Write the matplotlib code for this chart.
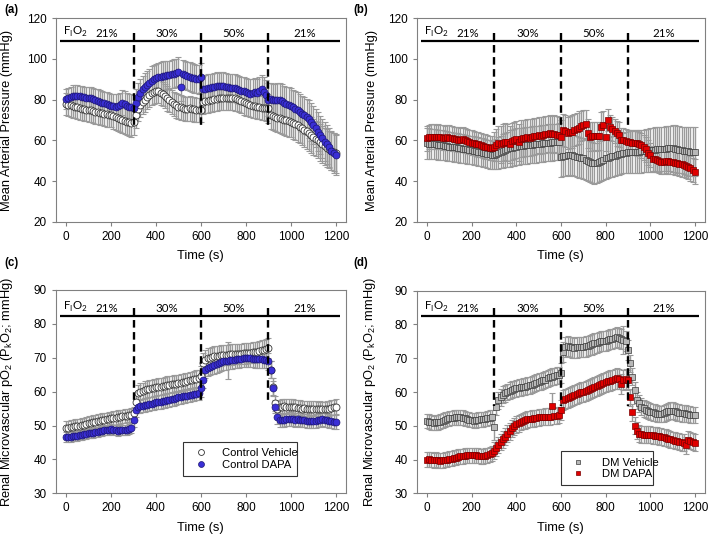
import numpy as np
import matplotlib.pyplot as plt

plt.rcParams['font.family'] = ['Liberation Sans', 'DejaVu Sans']

# sample times (s), one reading every 10 s
time_s = np.arange(0, 1201, 10)

# (a) mean arterial pressure, control rats
map_ctl_veh = [
    77.9, 77.5, 77.2, 76.8, 76.5, 76.2, 75.9, 75.6, 75.3, 75.1,
    75.0, 74.7, 74.4, 74.1, 73.8, 73.5, 73.3, 73.0, 72.8, 72.6,
    72.5, 72.0, 71.5, 71.0, 70.5, 70.0, 69.6, 69.2, 68.8, 68.3,
    69.2, 72.5, 75.5, 77.5, 79.0, 80.0, 81.2, 82.3, 83.3, 84.0,
    84.4, 84.2, 83.5, 82.7, 81.8, 80.6, 79.7, 78.8, 78.0, 77.2,
    76.6, 76.2, 75.8, 75.5, 75.4, 75.7, 75.5, 75.2, 75.0, 75.0,
    75.0, 79.0, 79.2, 79.5, 79.8, 80.0, 80.2, 80.5, 80.7, 80.9,
    81.0, 81.0, 81.0, 80.9, 80.8, 80.6, 80.3, 79.8, 79.2, 78.7,
    78.2, 77.8, 77.4, 77.0, 76.8, 76.6, 76.3, 76.0, 75.8, 75.7,
    75.7, 72.5, 72.0, 71.6, 71.2, 70.8, 70.5, 70.2, 69.8, 69.5,
    69.2, 68.6, 68.0, 67.4, 66.7, 66.0, 65.2, 64.4, 63.5, 62.6,
    61.8, 60.9, 60.0, 59.0, 58.0, 57.0, 56.3, 55.6, 54.8, 54.2,
    53.6]
map_ctl_veh_se = [
    5.5, 5.5, 5.5, 5.6, 5.6, 5.6, 5.7, 5.7, 5.7, 5.8,
    5.8, 5.8, 5.9, 5.9, 5.9, 6.0, 6.0, 6.0, 6.1, 6.1,
    6.1, 6.2, 6.2, 6.2, 6.3, 6.3, 6.4, 6.4, 6.5, 6.5,
    6.5, 6.2, 6.0, 6.0, 6.0, 6.0, 6.0, 6.0, 6.0, 6.0,
    6.0, 6.0, 6.0, 6.0, 6.0, 6.0, 6.0, 6.0, 6.0, 6.0,
    6.0, 6.0, 6.0, 6.0, 6.0, 6.0, 6.0, 6.0, 6.0, 6.0,
    6.0, 6.0, 6.0, 6.0, 6.0, 6.0, 6.0, 6.0, 6.0, 6.0,
    6.0, 6.0, 6.0, 6.0, 6.0, 6.0, 6.0, 6.0, 6.0, 6.0,
    6.0, 6.0, 6.0, 6.0, 6.0, 6.0, 6.0, 6.0, 6.0, 6.0,
    7.0, 7.0, 7.1, 7.2, 7.3, 7.4, 7.5, 7.6, 7.7, 7.8,
    7.8, 7.9, 8.0, 8.1, 8.2, 8.3, 8.4, 8.5, 8.6, 8.7,
    8.8, 8.8, 8.9, 9.0, 9.0, 9.1, 9.2, 9.2, 9.3, 9.4,
    9.5]
map_ctl_dapa = [
    80.2, 80.8, 81.3, 81.8, 82.0, 82.0, 81.8, 81.5, 81.2, 81.0,
    81.0, 80.6, 80.2, 79.8, 79.4, 79.0, 78.6, 78.2, 77.8, 77.4,
    77.0, 76.8, 76.6, 76.8, 77.2, 78.5, 77.8, 77.0, 76.5, 76.2,
    76.0, 78.5, 81.5, 83.5, 85.0, 86.0, 87.2, 88.3, 89.3, 90.0,
    90.5, 91.0, 91.3, 91.6, 91.8, 92.0, 92.2, 92.5, 92.8, 93.2,
    93.8, 86.2, 92.5, 92.0, 91.6, 91.3, 90.8, 90.5, 90.2, 90.0,
    91.0, 85.0, 85.3, 85.6, 85.8, 86.0, 86.4, 86.8, 86.5, 86.7,
    86.7, 86.2, 86.0, 85.8, 85.6, 85.6, 85.2, 84.8, 84.5, 84.2,
    84.0, 83.5, 83.0, 83.3, 83.6, 83.4, 84.2, 85.0, 84.0, 82.5,
    80.0, 80.2, 79.8, 79.6, 79.8, 79.8, 79.2, 78.5, 78.0, 77.5,
    77.0, 76.3, 75.5, 74.8, 74.0, 73.0, 72.3, 71.5, 70.5, 69.0,
    67.5, 66.0, 64.3, 62.5, 61.0, 59.3, 58.0, 56.5, 55.0, 53.8,
    52.8]
map_ctl_dapa_se = [
    5.0, 5.0, 5.0, 5.2, 5.2, 5.2, 5.0, 5.0, 5.0, 5.2,
    5.2, 5.4, 5.4, 5.4, 5.6, 5.6, 5.6, 5.8, 5.8, 5.8,
    6.0, 6.0, 6.0, 6.2, 6.2, 6.2, 6.4, 6.4, 6.4, 6.5,
    6.5, 6.5, 6.8, 6.8, 6.8, 7.0, 7.0, 7.0, 7.2, 7.2,
    7.2, 7.2, 7.2, 7.2, 7.0, 7.0, 7.0, 7.0, 7.0, 7.0,
    7.0, 7.0, 7.0, 7.0, 7.0, 7.0, 7.0, 7.0, 7.0, 7.0,
    7.0, 6.8, 6.8, 6.8, 6.8, 6.8, 6.8, 6.8, 6.8, 6.8,
    6.8, 6.8, 6.8, 6.8, 6.8, 6.8, 6.8, 6.8, 6.8, 6.8,
    6.8, 6.8, 7.0, 7.0, 7.0, 7.0, 7.0, 7.0, 7.0, 7.0,
    8.0, 8.0, 8.0, 8.2, 8.2, 8.2, 8.4, 8.4, 8.4, 8.6,
    8.6, 8.6, 8.8, 8.8, 8.8, 9.0, 9.0, 9.0, 9.2, 9.2,
    9.2, 9.4, 9.4, 9.4, 9.6, 9.6, 9.6, 9.8, 9.8, 9.8,
    10.0]

# (b) mean arterial pressure, diabetic rats
map_dm_veh = [
    58.5, 58.4, 58.3, 58.2, 58.0, 57.9, 57.8, 57.6, 57.4, 57.2,
    56.9, 56.8, 56.6, 56.5, 56.3, 56.1, 55.9, 55.7, 55.5, 55.3,
    55.2, 55.0, 54.7, 54.5, 54.2, 54.0, 53.7, 53.4, 53.1, 52.9,
    52.8, 53.3, 53.8, 54.2, 54.8, 55.2, 55.6, 56.0, 56.3, 56.6,
    56.9, 57.0, 57.2, 57.3, 57.5, 57.6, 57.8, 57.9, 58.0, 58.1,
    58.2, 58.3, 58.5, 58.6, 58.8, 58.9, 59.0, 59.1, 59.2, 59.3,
    52.0, 52.3, 52.5, 52.8, 52.6, 52.8, 52.5, 52.0, 51.6, 51.3,
    51.1, 50.5, 50.0, 49.5, 49.0, 48.7, 48.9, 49.5, 50.0, 50.5,
    51.1, 51.5, 51.8, 52.2, 52.5, 52.8, 53.1, 53.4, 53.7, 54.0,
    54.4, 54.3, 54.4, 54.5, 54.4, 54.4, 54.6, 54.8, 54.9, 55.0,
    55.2, 55.3, 55.4, 55.5, 55.6, 55.7, 55.8, 55.9, 56.0, 56.0,
    56.0, 55.8, 55.6, 55.4, 55.2, 55.0, 54.8, 54.6, 54.5, 54.4,
    54.4]
map_dm_veh_se = [
    7.5, 7.5, 7.5, 7.4, 7.4, 7.4, 7.3, 7.3, 7.3, 7.2,
    7.2, 7.2, 7.1, 7.1, 7.1, 7.0, 7.0, 7.0, 7.0, 7.0,
    7.0, 7.0, 7.0, 7.0, 7.0, 7.0, 7.0, 7.0, 7.0, 7.0,
    7.0, 7.5, 8.0, 8.0, 8.5, 8.5, 8.5, 9.0, 9.0, 9.0,
    9.0, 9.0, 9.0, 9.0, 9.0, 9.0, 9.0, 9.0, 9.0, 9.0,
    9.0, 9.0, 9.0, 9.0, 9.0, 9.0, 9.0, 9.0, 9.0, 9.0,
    10.0, 10.0, 10.0, 10.0, 10.0, 10.0, 10.0, 10.0, 10.0, 10.0,
    10.0, 10.0, 10.0, 10.0, 10.0, 10.0, 10.0, 10.0, 10.0, 10.0,
    10.0, 10.0, 10.0, 10.0, 10.0, 10.0, 10.0, 10.0, 10.0, 10.0,
    10.5, 10.5, 10.5, 10.5, 10.5, 10.5, 10.5, 10.5, 10.5, 10.5,
    11.0, 11.0, 11.0, 11.0, 11.0, 11.0, 11.0, 11.0, 11.0, 11.0,
    11.5, 11.5, 11.5, 11.5, 11.5, 11.5, 12.0, 12.0, 12.0, 12.0,
    12.0]
map_dm_dapa = [
    61.0, 61.5, 61.8, 61.8, 61.6, 61.8, 61.5, 61.3, 61.2, 61.4,
    61.3, 61.0, 60.8, 60.6, 60.4, 60.2, 60.5, 60.0, 59.6, 59.3,
    58.9, 58.6, 58.3, 58.0, 57.7, 57.2, 56.9, 56.6, 56.3, 56.1,
    56.9, 57.8, 58.5, 58.0, 58.8, 59.3, 59.0, 58.0, 59.5, 60.0,
    60.5, 59.0, 60.8, 61.0, 61.2, 61.5, 61.3, 61.6, 62.0, 62.2,
    62.6, 62.3, 62.6, 63.0, 63.2, 63.4, 63.0, 63.3, 62.8, 62.6,
    61.8, 65.1, 64.5, 63.5, 64.0, 64.3, 65.0, 65.5, 66.2, 67.0,
    67.5, 68.0, 63.4, 61.8, 61.9, 62.1, 62.0, 62.1, 66.7, 67.5,
    61.8, 70.0, 66.4, 65.5, 64.5, 63.4, 62.8, 60.2, 60.0, 59.5,
    59.3, 59.0, 58.8, 58.8, 58.5, 58.2, 57.5, 56.5, 55.5, 54.0,
    52.8, 51.0, 50.8, 50.5, 50.0, 49.5, 49.5, 49.8, 49.6, 49.5,
    49.5, 49.0, 48.8, 48.5, 48.2, 47.9, 47.5, 47.0, 46.2, 45.5,
    44.6]
map_dm_dapa_se = [
    6.0, 6.0, 6.0, 6.0, 6.0, 6.0, 6.0, 6.0, 6.0, 6.0,
    6.0, 6.0, 6.0, 6.0, 6.0, 6.0, 6.0, 6.0, 6.0, 6.0,
    6.0, 6.0, 6.0, 6.0, 6.0, 6.0, 6.0, 6.0, 6.0, 6.0,
    7.0, 8.0, 8.5, 9.0, 9.0, 9.0, 9.0, 9.0, 9.0, 9.0,
    9.0, 9.0, 9.0, 9.0, 9.0, 9.0, 9.0, 9.0, 9.0, 9.0,
    9.0, 9.0, 9.0, 9.0, 9.0, 9.0, 9.0, 9.0, 9.0, 9.0,
    8.0, 8.0, 8.0, 8.0, 8.0, 8.0, 8.0, 8.0, 8.0, 7.5,
    7.5, 7.0, 7.0, 7.0, 7.0, 7.0, 7.0, 7.0, 7.0, 7.0,
    7.0, 5.5, 6.0, 6.0, 6.0, 6.0, 6.0, 6.0, 6.0, 6.0,
    6.0, 6.0, 6.0, 6.0, 6.0, 6.0, 6.0, 6.0, 6.0, 6.0,
    6.0, 6.0, 6.0, 6.0, 6.0, 6.0, 6.0, 6.0, 6.0, 6.0,
    6.0, 6.0, 6.0, 6.0, 6.0, 6.0, 6.0, 6.0, 6.0, 6.0,
    6.0]

# (c) renal microvascular pO2, control rats
pko2_ctl_veh = [
    49.2, 49.3, 49.5, 49.6, 49.8, 49.9, 50.0, 50.2, 50.3, 50.5,
    50.7, 50.8, 51.0, 51.1, 51.3, 51.4, 51.6, 51.7, 51.8, 52.0,
    52.1, 52.2, 52.3, 52.5, 52.6, 52.7, 52.8, 52.9, 53.0, 53.1,
    53.6, 57.0, 59.5, 60.0, 60.2, 60.5, 60.7, 60.9, 61.0, 61.2,
    61.3, 61.4, 61.5, 61.6, 61.8, 62.0, 62.1, 62.2, 62.3, 62.4,
    62.5, 62.6, 62.8, 62.9, 63.1, 63.3, 63.4, 63.6, 63.8, 64.0,
    64.5, 68.4, 69.4, 69.8, 70.0, 70.3, 70.4, 70.5, 70.6, 70.7,
    70.8, 70.9, 70.9, 71.0, 71.0, 71.1, 71.1, 71.2, 71.2, 71.3,
    71.3, 71.4, 71.5, 71.6, 71.7, 71.8, 72.0, 72.2, 72.3, 72.5,
    72.8, 66.5, 61.5, 56.6, 55.0, 55.4, 55.6, 55.7, 55.6, 55.6,
    55.6, 55.5, 55.4, 55.3, 55.2, 55.0, 55.1, 55.0, 54.9, 55.0,
    55.0, 54.9, 54.8, 54.9, 54.8, 54.8, 54.9, 55.0, 55.2, 55.4,
    55.6]
pko2_ctl_veh_se = [
    2.0, 2.0, 2.0, 2.0, 2.0, 2.0, 2.0, 2.0, 2.0, 2.0,
    2.0, 2.0, 2.0, 2.0, 2.0, 2.0, 2.0, 2.0, 2.0, 2.0,
    2.0, 2.0, 2.0, 2.0, 2.0, 2.0, 2.0, 2.0, 2.0, 2.0,
    2.0, 2.5, 2.5, 2.5, 2.5, 2.5, 2.5, 2.5, 2.5, 2.5,
    2.5, 2.5, 2.5, 2.5, 2.5, 2.5, 2.5, 2.5, 2.5, 2.5,
    2.5, 2.5, 2.5, 2.5, 2.5, 2.5, 2.5, 2.5, 2.5, 2.5,
    3.0, 3.0, 3.0, 3.0, 3.0, 3.0, 3.0, 3.0, 3.0, 3.0,
    3.0, 3.0, 3.0, 3.0, 3.0, 3.0, 3.0, 3.0, 3.0, 3.0,
    3.0, 3.0, 3.0, 3.0, 3.0, 3.0, 3.0, 3.0, 3.0, 3.0,
    3.0, 2.5, 2.5, 2.2, 2.2, 2.2, 2.2, 2.2, 2.2, 2.2,
    2.2, 2.2, 2.2, 2.2, 2.2, 2.2, 2.2, 2.2, 2.2, 2.2,
    2.2, 2.2, 2.2, 2.2, 2.2, 2.2, 2.2, 2.2, 2.2, 2.2,
    2.2]
pko2_ctl_dapa = [
    46.7, 46.5, 46.6, 46.8, 46.9, 47.0, 47.1, 47.2, 47.4, 47.5,
    47.7, 47.8, 47.9, 48.0, 48.2, 48.3, 48.4, 48.6, 48.7, 48.8,
    48.9, 48.8, 48.6, 48.5, 48.7, 48.7, 48.6, 48.8, 49.0, 49.2,
    51.7, 54.5, 55.6, 55.8, 55.9, 56.0, 56.2, 56.4, 56.5, 56.7,
    56.8, 56.9, 57.0, 57.2, 57.3, 57.5, 57.6, 57.8, 57.9, 58.1,
    58.3, 58.4, 58.6, 58.7, 58.8, 59.0, 59.1, 59.2, 59.4, 59.5,
    61.0, 63.5, 66.4, 67.0, 67.3, 67.6, 67.8, 68.1, 68.4, 68.7,
    68.9, 69.0, 69.1, 69.2, 69.3, 69.4, 69.5, 69.6, 69.7, 69.8,
    69.8, 69.9, 69.8, 69.7, 69.6, 69.6, 69.5, 69.5, 69.4, 69.4,
    68.9, 66.4, 61.0, 55.6, 52.6, 51.7, 51.5, 51.7, 51.8, 51.9,
    51.9, 51.8, 51.7, 51.8, 51.7, 51.7, 51.5, 51.3, 51.2, 51.2,
    51.2, 51.4, 51.5, 51.7, 51.9, 51.7, 51.5, 51.3, 51.2, 51.1,
    51.0]
pko2_ctl_dapa_se = [
    1.5, 1.5, 1.5, 1.5, 1.5, 1.5, 1.5, 1.5, 1.5, 1.5,
    1.5, 1.5, 1.5, 1.5, 1.5, 1.5, 1.5, 1.5, 1.5, 1.5,
    1.5, 1.5, 1.5, 1.5, 1.5, 1.5, 1.5, 1.5, 1.5, 1.5,
    2.0, 2.0, 2.0, 2.0, 2.0, 2.0, 2.0, 2.0, 2.0, 2.0,
    2.0, 2.0, 2.0, 2.0, 2.0, 2.0, 2.0, 2.0, 2.0, 2.0,
    2.0, 2.0, 2.0, 2.0, 2.0, 2.0, 2.0, 2.0, 2.0, 2.0,
    2.5, 2.5, 2.5, 2.5, 2.5, 2.5, 2.5, 2.5, 2.5, 2.5,
    2.5, 2.5, 5.5, 2.5, 2.5, 2.5, 2.5, 2.5, 2.5, 2.5,
    2.5, 2.5, 2.5, 2.5, 2.5, 2.5, 2.5, 2.5, 2.5, 2.5,
    2.5, 2.5, 2.2, 2.0, 2.0, 2.0, 2.0, 2.0, 2.0, 2.0,
    2.0, 2.0, 2.0, 2.0, 2.0, 2.0, 2.0, 2.0, 2.0, 2.0,
    2.0, 2.0, 2.0, 2.0, 2.0, 2.0, 2.0, 2.0, 2.0, 2.0,
    2.0]

# (d) renal microvascular pO2, diabetic rats
pko2_dm_veh = [
    51.4, 51.2, 51.0, 50.8, 51.0, 51.0, 51.2, 51.5, 51.8, 52.0,
    52.2, 52.3, 52.4, 52.5, 52.5, 52.5, 52.4, 52.2, 52.0, 51.8,
    51.7, 51.5, 51.6, 51.8, 51.9, 51.9, 52.0, 52.2, 52.4, 52.5,
    49.7, 55.6, 57.6, 58.5, 59.2, 59.6, 60.0, 60.4, 60.7, 60.9,
    61.1, 61.3, 61.4, 61.5, 61.6, 61.8, 62.0, 62.2, 62.4, 62.7,
    63.0, 63.2, 63.5, 63.7, 64.0, 64.3, 64.5, 64.7, 64.9, 65.0,
    65.7, 71.9, 73.4, 73.6, 73.4, 73.2, 73.1, 73.2, 73.3, 73.4,
    73.4, 73.5, 73.7, 73.9, 74.1, 74.4, 74.6, 74.8, 75.0, 75.1,
    75.2, 75.4, 75.6, 75.8, 76.0, 76.2, 76.0, 75.8, 75.4, 75.0,
    72.5, 68.5, 64.5, 60.6, 57.6, 56.6, 55.6, 55.2, 54.8, 54.5,
    54.2, 54.0, 53.8, 53.6, 53.5, 53.5, 53.7, 54.0, 54.3, 54.5,
    54.5, 54.3, 54.0, 53.8, 53.7, 53.7, 53.6, 53.5, 53.3, 53.2,
    53.2]
pko2_dm_veh_se = [
    2.2, 2.2, 2.2, 2.2, 2.2, 2.2, 2.2, 2.2, 2.2, 2.2,
    2.2, 2.2, 2.2, 2.2, 2.2, 2.2, 2.2, 2.2, 2.2, 2.2,
    2.2, 2.2, 2.2, 2.2, 2.2, 2.2, 2.2, 2.2, 2.2, 2.2,
    3.8, 2.5, 2.5, 2.5, 2.5, 2.5, 2.5, 2.5, 2.5, 2.5,
    2.5, 2.5, 2.5, 2.5, 2.5, 2.5, 2.5, 2.5, 2.5, 2.5,
    2.5, 2.5, 2.5, 2.5, 2.5, 2.5, 2.5, 2.5, 2.5, 2.5,
    3.0, 3.0, 3.0, 3.0, 3.0, 3.0, 3.0, 3.0, 3.0, 3.0,
    3.0, 3.0, 3.0, 3.0, 3.0, 3.0, 3.0, 3.0, 3.0, 3.0,
    3.0, 3.0, 3.0, 3.0, 3.0, 3.0, 3.0, 3.0, 4.0, 3.0,
    3.0, 2.5, 2.5, 2.5, 2.5, 2.5, 2.5, 2.5, 2.5, 2.5,
    2.5, 2.5, 2.5, 2.5, 2.5, 2.5, 2.5, 2.5, 2.5, 2.5,
    2.5, 2.5, 2.5, 2.5, 2.5, 2.5, 2.5, 2.5, 2.5, 2.5,
    2.5]
pko2_dm_dapa = [
    40.0, 40.1, 39.9, 39.8, 39.9, 39.8, 39.7, 39.8, 39.9, 40.0,
    40.2, 40.3, 40.5, 40.6, 40.8, 41.0, 41.0, 41.1, 41.2, 41.2,
    41.3, 41.3, 41.2, 41.1, 41.0, 41.0, 41.1, 41.2, 41.5, 41.8,
    42.6, 43.4, 44.3, 45.2, 46.0, 46.8, 47.6, 48.4, 49.2, 49.9,
    50.5, 50.8, 51.1, 51.4, 51.6, 51.9, 52.0, 52.1, 52.2, 52.3,
    52.5, 52.6, 52.6, 52.7, 52.7, 52.7, 55.8, 52.9, 53.0, 53.2,
    54.7, 57.6, 58.0, 58.3, 58.6, 58.8, 59.1, 59.4, 59.6, 59.9,
    60.1, 60.4, 60.6, 60.9, 61.1, 61.4, 61.7, 62.0, 62.3, 62.7,
    63.0, 63.2, 63.4, 63.6, 63.8, 64.0, 63.8, 62.3, 63.6, 63.8,
    63.6, 58.5, 54.0, 50.0, 48.5, 47.7, 47.5, 47.4, 47.3, 47.3,
    47.3, 47.2, 47.1, 47.0, 46.9, 46.8, 46.6, 46.4, 46.2, 46.0,
    45.8, 45.6, 45.5, 45.3, 45.1, 45.0, 44.2, 45.9, 45.6, 45.3,
    45.0]
pko2_dm_dapa_se = [
    2.2, 2.2, 2.2, 2.2, 2.2, 2.2, 2.2, 2.2, 2.2, 2.2,
    2.2, 2.2, 2.2, 2.2, 2.2, 2.2, 2.2, 2.2, 2.2, 2.2,
    2.2, 2.2, 2.2, 2.2, 2.2, 2.2, 2.2, 2.2, 2.2, 2.2,
    2.5, 2.5, 2.5, 2.5, 2.5, 2.5, 2.5, 2.5, 2.5, 2.5,
    2.5, 2.5, 2.5, 2.5, 2.5, 2.5, 2.5, 2.5, 2.5, 2.5,
    2.5, 2.5, 2.5, 2.5, 2.5, 2.5, 4.0, 2.5, 2.5, 2.5,
    3.0, 3.0, 3.0, 3.0, 3.0, 3.0, 3.0, 3.0, 3.0, 3.0,
    3.0, 3.0, 3.0, 3.0, 3.0, 3.0, 3.0, 3.0, 3.0, 3.0,
    3.0, 3.0, 3.0, 3.0, 3.0, 3.0, 3.0, 3.0, 3.0, 3.0,
    3.0, 2.5, 2.5, 2.5, 2.5, 2.5, 2.5, 2.5, 2.5, 2.5,
    2.5, 2.5, 2.5, 2.5, 2.5, 2.5, 2.5, 2.5, 2.5, 2.5,
    2.5, 2.5, 2.5, 2.5, 2.5, 2.5, 2.5, 2.5, 2.5, 2.5,
    2.5]

fio2_changes = [300, 600, 900]
fio2_labels = ['21%', '30%', '50%', '21%']
fio2_label_x = [182, 450, 745, 1062]

ctl_veh_style = dict(marker='o', ms=5, mfc='white', mec='#333333', mew=0.6)
ctl_dapa_style = dict(marker='o', ms=5, mfc='#3a2fd6', mec='#1c1670', mew=0.5)
dm_veh_style = dict(marker='s', ms=4.4, mfc='#b8b8b8', mec='#3a3a3a', mew=0.5)
dm_dapa_style = dict(marker='s', ms=4.4, mfc='#e00000', mec='#7a0000', mew=0.5)


def draw_panel(ax, veh, veh_se, dapa, dapa_se, veh_style, dapa_style,
               ylim, ystep, bar_y, dash_lo, dash_hi, label_y):
    for vals, se in ((veh, veh_se), (dapa, dapa_se)):
        eb = ax.errorbar(time_s, vals, yerr=se, fmt='none', ecolor='#9a9a9a',
                         elinewidth=1.0, capsize=2.0, capthick=0.8, zorder=2)
        for cap in eb[1]:
            cap.set_color('#4a4a4a')
    h_veh, = ax.plot(time_s, veh, linestyle='none', zorder=3, **veh_style)
    h_dapa, = ax.plot(time_s, dapa, linestyle='none', zorder=4, **dapa_style)

    # FiO2 protocol bar; dashes drawn top-down so they start at the bar
    ax.plot([-25, 1220], [bar_y, bar_y], color='black', lw=1.6, zorder=5,
            solid_capstyle='butt')
    for x in fio2_changes:
        ax.plot([x, x], [dash_hi, dash_lo], color='black', lw=1.7,
                linestyle=(0, (3.2, 1.9)), dash_capstyle='butt', zorder=5)
    ax.text(-12, label_y, 'F$_\\mathregular{I}$O$_\\mathregular{2}$',
            fontsize=8.3, ha='left', va='bottom', family=['Lato', 'DejaVu Sans'])
    for x, lab in zip(fio2_label_x, fio2_labels):
        ax.text(x, label_y, lab, fontsize=8.3, ha='center', va='bottom',
                family=['Lato', 'DejaVu Sans'])

    ax.set_xlim(-47, 1245)
    ax.set_ylim(*ylim)
    ax.set_xticks(range(0, 1201, 200))
    ax.set_yticks(np.arange(ylim[0], ylim[1] + 1, ystep))
    ax.set_xlabel('Time (s)', fontsize=9.3)
    ax.xaxis.set_label_coords(0.5, -0.14)
    ax.tick_params(labelsize=8.5, length=3, width=0.8, color='#808080')
    for sp in ax.spines.values():
        sp.set_color('#808080')
        sp.set_linewidth(0.8)
    return h_veh, h_dapa


fig = plt.figure(figsize=(7.09, 5.36), dpi=100)
W, H = 709, 536
ax_a = fig.add_axes([55.5 / W, 1 - 221.7 / H, 290.5 / W, 203.4 / H])
ax_b = fig.add_axes([416.5 / W, 1 - 221.7 / H, 288.5 / W, 203.4 / H])
ax_c = fig.add_axes([55.5 / W, 1 - 493.3 / H, 290.5 / W, 203.3 / H])
ax_d = fig.add_axes([416.5 / W, 1 - 493.3 / H, 288.5 / W, 202.6 / H])

draw_panel(ax_a, map_ctl_veh, map_ctl_veh_se, map_ctl_dapa, map_ctl_dapa_se,
           ctl_veh_style, ctl_dapa_style, (20, 120), 20, 108.8, 66, 113, 109.8)
draw_panel(ax_b, map_dm_veh, map_dm_veh_se, map_dm_dapa, map_dm_dapa_se,
           dm_veh_style, dm_dapa_style, (20, 120), 20, 108.8, 66, 113, 109.8)
hc = draw_panel(ax_c, pko2_ctl_veh, pko2_ctl_veh_se, pko2_ctl_dapa, pko2_ctl_dapa_se,
                ctl_veh_style, ctl_dapa_style, (30, 90), 10, 82.4, 56.5, 84.8, 83.0)
hd = draw_panel(ax_d, pko2_dm_veh, pko2_dm_veh_se, pko2_dm_dapa, pko2_dm_dapa_se,
                dm_veh_style, dm_dapa_style, (30, 90), 10, 82.6, 55.8, 84.8, 83.2)

map_label = 'Mean Arterial Pressure (mmHg)'
pko2_label = ('Renal Microvascular pO$_\\mathregular{2}$ '
              '(P$_\\mathregular{k}$O$_\\mathregular{2}$; mmHg)')
for ax, lab, xc in ((ax_a, map_label, -0.145), (ax_b, map_label, -0.135),
                    (ax_c, pko2_label, -0.138), (ax_d, pko2_label, -0.132)):
    ax.set_ylabel(lab, fontsize=9.3)
    ax.yaxis.set_label_coords(xc, 0.5)

leg_c = ax_c.legend(hc, ['Control Vehicle', 'Control DAPA'], loc='lower left',
                    bbox_to_anchor=(0.42, 0.056, 0.43, 0.19), mode='expand',
                    fontsize=8.1, fancybox=False, framealpha=1, borderpad=0.55,
                    handletextpad=0.9, labelspacing=0.15, markerscale=0.85)
leg_d = ax_d.legend(hd, ['DM Vehicle', 'DM DAPA'], loc='lower left',
                    bbox_to_anchor=(0.48, 0.011, 0.36, 0.194), mode='expand',
                    fontsize=8.1, fancybox=False, framealpha=1, borderpad=0.55,
                    handletextpad=1.1, labelspacing=0.15, markerscale=0.75)
for leg in (leg_c, leg_d):
    leg.get_frame().set_edgecolor('#333333')
    leg.get_frame().set_linewidth(0.8)

for lab, x, y in (('(a)', 4, 10), ('(b)', 353, 10), ('(c)', 4, 263), ('(d)', 353, 263)):
    fig.text(x / W, 1 - y / H, lab, fontsize=8.3, fontweight='bold', va='center')

fig.savefig('out.png', dpi=100)
